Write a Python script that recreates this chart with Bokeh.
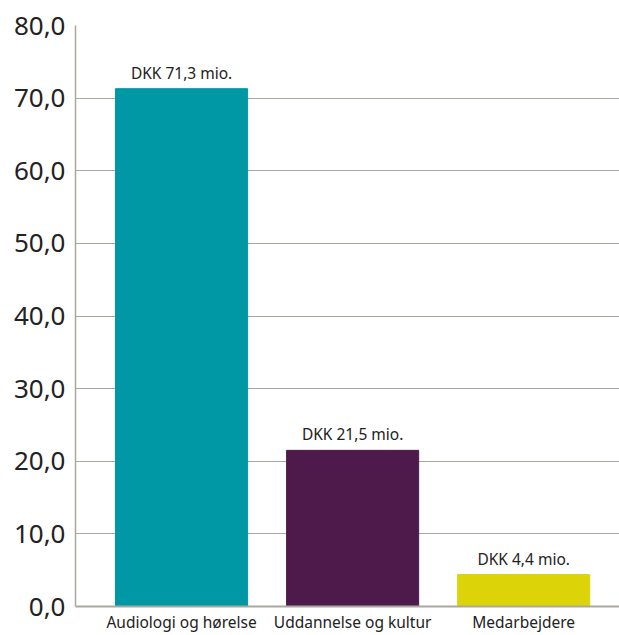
from bokeh.plotting import figure
from bokeh.models import Range1d, FixedTicker, ColumnDataSource
from bokeh.embed import file_html
from bokeh.resources import INLINE
from bokeh.core.properties import value

categories = ["Audiologi og hørelse", "Uddannelse og kultur", "Medarbejdere"]
values = [71.3, 21.5, 4.4]
colors = ["#0098a5", "#4e1a4c", "#dcd308"]
y_ticks = [0, 10, 20, 30, 40, 50, 60, 70, 80]

xs = list(range(len(categories)))
labels = ["DKK " + f"{v:.1f}".replace(".", ",") + " mio." for v in values]

src = ColumnDataSource(dict(x=xs, top=values, color=colors, label=labels))

p = figure(width=619, height=635, output_backend="svg", toolbar_location=None,
           x_range=Range1d(-0.62, 2.56), y_range=Range1d(0, 80),
           min_border_left=75, min_border_right=0, min_border_top=25, min_border_bottom=29)
p.outline_line_color = None
p.background_fill_color = "white"
p.border_fill_color = "white"

p.vbar(x="x", top="top", width=0.772, color="color", source=src)
p.text(x="x", y="top", text="label", source=src, text_align="center",
       text_baseline="bottom", y_offset=-5, text_font_size="15.5px",
       text_color="#222222", text_font=value("Noto Sans"))

p.xaxis.ticker = FixedTicker(ticks=xs)
p.xaxis.major_label_overrides = {i: c for i, c in enumerate(categories)}
p.xaxis.major_tick_line_color = None
p.xaxis.major_tick_out = 0
p.xaxis.major_tick_in = 0
p.xaxis.minor_tick_line_color = None
p.xaxis.minor_tick_out = 0
p.xaxis.minor_tick_in = 0
p.xaxis.axis_line_color = "#aaa79f"
p.xaxis.axis_line_width = 2
p.xaxis.major_label_text_font_size = "15.5px"
p.xaxis.major_label_text_color = "#222222"
p.xaxis.major_label_text_font = "Noto Sans"
p.xaxis.major_label_standoff = 4
p.xgrid.grid_line_color = None

p.yaxis.ticker = FixedTicker(ticks=y_ticks)
p.yaxis.major_label_overrides = {t: f"{t:.1f}".replace(".", ",") for t in y_ticks}
p.yaxis.major_tick_line_color = None
p.yaxis.major_tick_out = 0
p.yaxis.major_tick_in = 0
p.yaxis.minor_tick_line_color = None
p.yaxis.minor_tick_out = 0
p.yaxis.minor_tick_in = 0
p.yaxis.axis_line_color = "#aaa79f"
p.yaxis.axis_line_width = 1.5
p.yaxis.major_label_text_font_size = "26px"
p.yaxis.major_label_text_color = "#222222"
p.yaxis.major_label_text_font = "Noto Sans"
p.yaxis.major_label_standoff = 10
p.ygrid.grid_line_color = "#aaa79f"
p.ygrid.grid_line_width = 1.2

open("out.html", "w").write(file_html(p, INLINE))
